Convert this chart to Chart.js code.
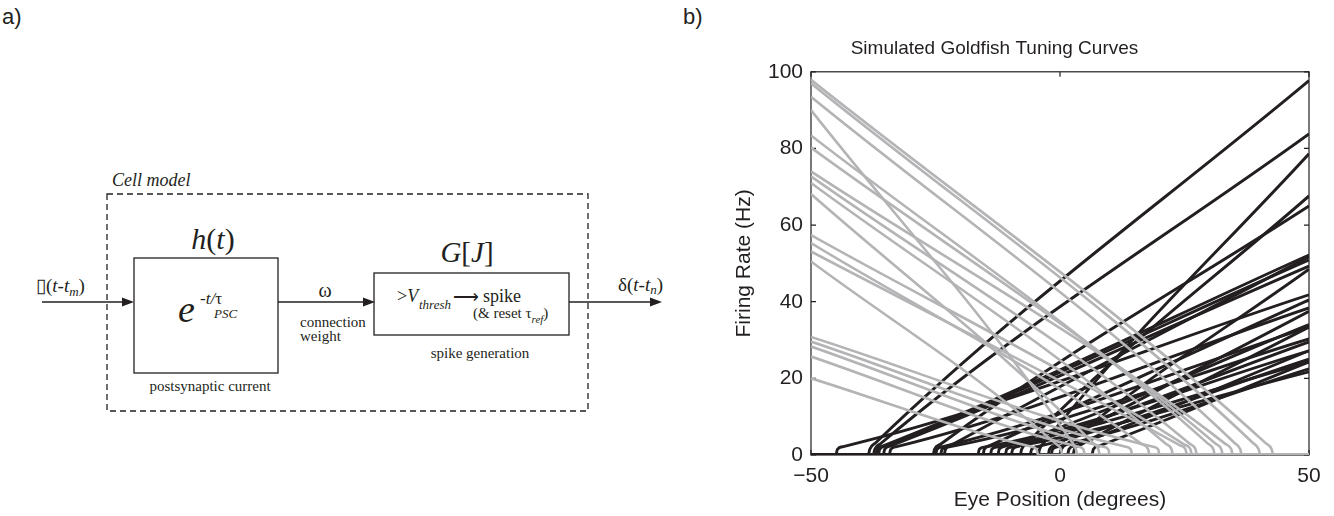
<!DOCTYPE html>
<html>
<head>
<meta charset="utf-8">
<script src="https://cdn.jsdelivr.net/npm/chart.js@4.4.1/dist/chart.umd.min.js"></script>
<style>
  body { margin: 0; background: #fff; width: 1334px; height: 516px; overflow: hidden; position: relative;
         font-family: "Liberation Sans", Arial, sans-serif; color: #231f20; }
  .panel { position: absolute; font-size: 22px; }
  #diagram { position: absolute; left: 0; top: 0; }
  #diagram text { font-family: "Liberation Serif", "Times New Roman", serif; fill: #231f20; }
  #plot { position: absolute; left: 680px; top: 0; width: 654px; height: 516px; }
</style>
</head>
<body>
<div class="panel" style="left:2px;top:4px">a)</div>
<div class="panel" style="left:683px;top:4px">b)</div>

<svg id="diagram" width="680" height="516">
  <!-- cell model outline -->
  <text x="112" y="186" font-size="18" font-style="italic">Cell model</text>
  <rect x="107" y="194" width="481" height="217" fill="none" stroke="#231f20" stroke-width="1.3" stroke-dasharray="6 4"/>

  <!-- input spike train -->
  <text x="36" y="292" font-size="19">▯(<tspan font-style="italic">t</tspan>-<tspan font-style="italic">t</tspan><tspan font-size="13" font-style="italic" dy="4">m</tspan><tspan dy="-4">)</tspan></text>
  <line x1="42" y1="302" x2="124" y2="302" stroke="#231f20" stroke-width="1.3"/>
  <polygon points="134,302 122,297.5 122,306.5" fill="#231f20"/>

  <!-- postsynaptic current -->
  <text x="213" y="249" font-size="30" text-anchor="middle"><tspan font-style="italic">h</tspan>(<tspan font-style="italic">t</tspan>)</text>
  <rect x="134" y="258" width="144" height="115" fill="none" stroke="#231f20" stroke-width="1.3"/>
  <text x="178" y="322" font-size="38" font-style="italic">e</text>
  <text x="200" y="304" font-size="17">-<tspan font-style="italic">t/</tspan>τ</text>
  <text x="214" y="318" font-size="13" font-style="italic">PSC</text>
  <text x="210" y="391" font-size="15" text-anchor="middle">postsynaptic current</text>

  <!-- connection weight -->
  <text x="325" y="297" font-size="20" text-anchor="middle">ω</text>
  <line x1="278" y1="302" x2="365" y2="302" stroke="#231f20" stroke-width="1.3"/>
  <polygon points="375,302 363,297.5 363,306.5" fill="#231f20"/>
  <text x="300" y="327" font-size="15">connection</text>
  <text x="300" y="341" font-size="15">weight</text>

  <!-- spike generation -->
  <text x="467" y="262" font-size="29" text-anchor="middle"><tspan font-style="italic">G</tspan>[<tspan font-style="italic">J</tspan>]</text>
  <rect x="374" y="273" width="195" height="62" fill="none" stroke="#231f20" stroke-width="1.3"/>
  <text x="397" y="302" font-size="18">&gt;<tspan font-style="italic">V</tspan></text>
  <text x="419" y="309" font-size="13" font-style="italic">thresh</text>
  <text x="453" y="303" font-size="18">⟶</text>
  <text x="483" y="302" font-size="18">spike</text>
  <text x="473" y="318" font-size="15">(&amp; reset  τ<tspan font-size="11" font-style="italic" dy="5">ref</tspan><tspan dy="-5">)</tspan></text>
  <text x="480" y="358" font-size="15" text-anchor="middle">spike generation</text>

  <!-- output spike train -->
  <line x1="569" y1="302" x2="651" y2="302" stroke="#231f20" stroke-width="1.3"/>
  <polygon points="662,302 650,297.5 650,306.5" fill="#231f20"/>
  <text x="618" y="291" font-size="19">δ(<tspan font-style="italic">t</tspan>-<tspan font-style="italic">t</tspan><tspan font-size="13" font-style="italic" dy="3">n</tspan><tspan dy="-3">)</tspan></text>
</svg>

<div id="plot"><canvas id="tuningChart"></canvas></div>

<script>
const INK = '#231f20';
const GREY = '#b4b4b6';

const xTicks = [-50, 0, 50];
const yTicks = [0, 20, 40, 60, 80, 100];

// "on" neurons (black): [eye position (deg), firing rate (Hz)]
const onCurves = [
  [[-50, 0], [-38.5, 0], [-38.2, 1.5], [-37.0, 3.2], [50, 97.7]],
  [[-50, 0], [-45.0, 0], [-44.7, 1.5], [-43.5, 2.2], [50, 41.8]],
  [[-50, 0], [-37.5, 0], [-37.2, 1.5], [-36.0, 3.0], [50, 83.8]],
  [[-50, 0], [-37.0, 0], [-36.7, 1.5], [-35.5, 2.4], [50, 52.2]],
  [[-50, 0], [-36.5, 0], [-36.2, 1.5], [-35.0, 2.4], [50, 50.9]],
  [[-50, 0], [-35.5, 0], [-35.2, 1.5], [-34.0, 2.4], [50, 49.3]],
  [[-50, 0], [-34.3, 0], [-34.0, 1.5], [-32.8, 2.2], [50, 38.4]],
  [[-50, 0], [-25.5, 0], [-25.2, 1.5], [-24.0, 2.8], [50, 65.0]],
  [[-50, 0], [-25.0, 0], [-24.7, 1.5], [-23.5, 2.2], [50, 33.4]],
  [[-50, 0], [-24.0, 0], [-23.7, 1.5], [-22.5, 2.1], [50, 30.3]],
  [[-50, 0], [-23.3, 0], [-23.0, 1.5], [-21.8, 2.6], [50, 51.8]],
  [[-50, 0], [-16.5, 0], [-16.2, 1.5], [-15.0, 2.1], [50, 27.2]],
  [[-50, 0], [-15.5, 0], [-15.2, 1.5], [-14.0, 2.5], [50, 40.5]],
  [[-50, 0], [-14.0, 0], [-13.7, 1.5], [-12.5, 2.1], [50, 24.3]],
  [[-50, 0], [-12.5, 0], [-12.2, 1.5], [-11.0, 2.3], [50, 34.0]],
  [[-50, 0], [-11.0, 0], [-10.7, 1.5], [-9.5, 2.1], [50, 21.7]],
  [[-50, 0], [-9.8, 0], [-9.5, 1.5], [-8.3, 2.3], [50, 29.5]],
  [[-50, 0], [-8.0, 0], [-7.7, 1.5], [-6.5, 3.3], [50, 67.6]],
  [[-50, 0], [-6.0, 0], [-5.7, 1.5], [-4.5, 2.2], [50, 25.0]],
  [[-50, 0], [-4.4, 0], [-4.1, 1.5], [-2.9, 3.7], [50, 78.6]],
  [[-50, 0], [-2.4, 0], [-2.1, 1.5], [-0.9, 2.6], [50, 37.5]],
  [[-50, 0], [-1.8, 0], [-1.5, 1.5], [-0.3, 2.2], [50, 22.5]],
  [[-50, 0], [0.0, 0], [0.3, 1.5], [1.5, 3.0], [50, 48.5]],
  [[-50, 0], [1.5, 0], [1.8, 1.5], [3.0, 2.4], [50, 27.2]],
  [[-50, 0], [2.6, 0], [2.9, 1.5], [4.1, 2.6], [50, 33.4]],
  [[-50, 0], [6.4, 0], [6.7, 1.5], [7.9, 2.4], [50, 24.3]]
];

// "off" neurons (grey)
const offCurves = [
  [[-50, 97.9], [41.3, 3.1], [42.5, 1.5], [42.8, 0], [50, 0]],
  [[-50, 97.0], [38.7, 3.2], [39.9, 1.5], [40.2, 0], [50, 0]],
  [[-50, 93.5], [35.0, 3.2], [36.2, 1.5], [36.5, 0], [50, 0]],
  [[-50, 90.0], [2.0, 4.1], [3.2, 1.5], [3.5, 0], [50, 0]],
  [[-50, 83.4], [29.6, 3.1], [30.8, 1.5], [31.1, 0], [50, 0]],
  [[-50, 80.2], [31.2, 3.0], [32.4, 1.5], [32.7, 0], [50, 0]],
  [[-50, 74.0], [33.2, 2.9], [34.4, 1.5], [34.7, 0], [50, 0]],
  [[-50, 72.7], [26.0, 3.0], [27.2, 1.5], [27.5, 0], [50, 0]],
  [[-50, 71.0], [21.2, 3.0], [22.4, 1.5], [22.7, 0], [50, 0]],
  [[-50, 68.1], [6.5, 3.3], [7.7, 1.5], [8.0, 0], [50, 0]],
  [[-50, 57.4], [25.0, 2.7], [26.2, 1.5], [26.5, 0], [50, 0]],
  [[-50, 55.3], [16.5, 2.8], [17.7, 1.5], [18.0, 0], [50, 0]],
  [[-50, 53.1], [24.0, 2.6], [25.2, 1.5], [25.5, 0], [50, 0]],
  [[-50, 50.5], [-1.0, 3.1], [0.2, 1.5], [0.5, 0], [50, 0]],
  [[-50, 30.8], [18.5, 2.2], [19.7, 1.5], [20.0, 0], [50, 0]],
  [[-50, 29.6], [13.0, 2.2], [14.2, 1.5], [14.5, 0], [50, 0]],
  [[-50, 28.3], [8.5, 2.2], [9.7, 1.5], [10.0, 0], [50, 0]],
  [[-50, 25.7], [3.5, 2.2], [4.7, 1.5], [5.0, 0], [50, 0]],
  [[-50, 20.0], [-5.9, 2.2], [-4.7, 1.5], [-4.4, 0], [50, 0]]
];

function curveDataset(points, color, width) {
    return {
        data: points.map(([x, y]) => ({ x: x, y: y })),
        borderColor: color,
        borderWidth: width,
        showLine: true,
        pointRadius: 0,
        fill: false,
        cubicInterpolationMode: 'monotone'
    };
}

// axes box with inward ticks, like the original
const framePlugin = {
    id: 'frame',
    beforeDatasetsDraw(chart) {
        const { ctx, chartArea: a, scales: { x, y } } = chart;
        ctx.save();
        ctx.strokeStyle = INK;
        ctx.lineWidth = 1.2;
        ctx.strokeRect(a.left, a.top, a.right - a.left, a.bottom - a.top);
        ctx.beginPath();
        yTicks.forEach(v => {
            const py = y.getPixelForValue(v);
            ctx.moveTo(a.left, py); ctx.lineTo(a.left + 5, py);
            ctx.moveTo(a.right, py); ctx.lineTo(a.right - 5, py);
        });
        xTicks.forEach(v => {
            const px = x.getPixelForValue(v);
            ctx.moveTo(px, a.bottom); ctx.lineTo(px, a.bottom - 5);
            ctx.moveTo(px, a.top); ctx.lineTo(px, a.top + 5);
        });
        ctx.stroke();
        ctx.restore();
    }
};

const ctx = document.getElementById('tuningChart').getContext('2d');
const chart = new Chart(ctx, {
    type: 'scatter',
    data: {
        // grey first so it is drawn on top of the black curves
        datasets: [
            ...offCurves.map(c => curveDataset(c, GREY, 2.6)),
            ...onCurves.map(c => curveDataset(c, INK, 2.9))
        ]
    },
    options: {
        responsive: true,
        maintainAspectRatio: false,
        animation: false,
        layout: { padding: { left: 0, right: 25, top: 0, bottom: 0 } },
        plugins: {
            legend: { display: false },
            tooltip: { enabled: false },
            title: {
                display: true,
                text: 'Simulated Goldfish Tuning Curves',
                color: INK,
                font: { family: '"Liberation Sans", Arial, sans-serif', size: 19, weight: 'normal' },
                padding: { top: 37, bottom: 12 }
            }
        },
        scales: {
            x: {
                type: 'linear',
                min: -50,
                max: 50,
                afterBuildTicks: s => { s.ticks = xTicks.map(v => ({ value: v })); },
                afterFit: s => { s.height = 61; },
                grid: { display: false, drawTicks: false },
                border: { display: false },
                ticks: {
                    color: INK,
                    padding: 9,
                    maxRotation: 0,
                    font: { family: '"Liberation Sans", Arial, sans-serif', size: 21 },
                    callback: v => (v < 0 ? '\u2212' + (-v) : String(v))
                },
                title: {
                    display: true,
                    text: 'Eye Position (degrees)',
                    color: INK,
                    font: { family: '"Liberation Sans", Arial, sans-serif', size: 21 },
                    padding: { top: 0, bottom: 3 }
                }
            },
            y: {
                min: 0,
                max: 100,
                afterBuildTicks: s => { s.ticks = yTicks.map(v => ({ value: v })); },
                afterFit: s => { s.width = 131; },
                grid: { display: false, drawTicks: false },
                border: { display: false },
                ticks: {
                    color: INK,
                    padding: 8,
                    font: { family: '"Liberation Sans", Arial, sans-serif', size: 21 }
                },
                title: {
                    display: true,
                    text: 'Firing Rate (Hz)',
                    color: INK,
                    font: { family: '"Liberation Sans", Arial, sans-serif', size: 21 },
                    padding: { top: 52, bottom: 0 }
                }
            }
        }
    },
    plugins: [framePlugin]
});
</script>
</body>
</html>
